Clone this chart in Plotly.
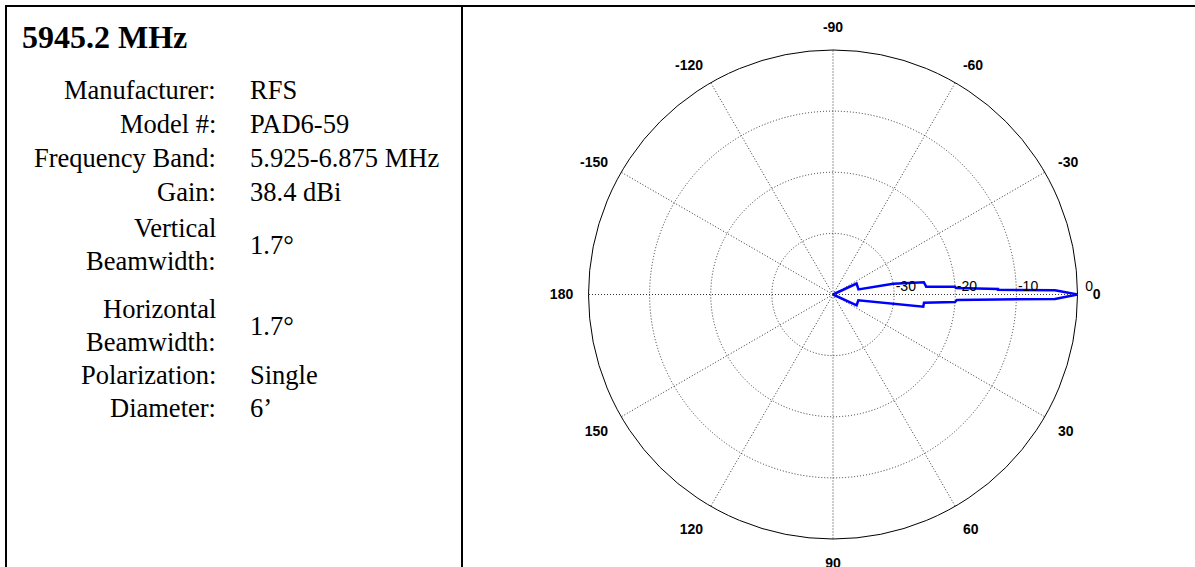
import plotly.graph_objects as go

# ---------------- data ----------------
title_text = "5945.2 MHz"
spec_labels = ["Manufacturer:", "Model #:", "Frequency Band:", "Gain:",
               "Vertical<br>Beamwidth:", "Horizontal<br>Beamwidth:",
               "Polarization:", "Diameter:"]
spec_values = ["RFS", "PAD6-59", "5.925-6.875 MHz", "38.4 dBi",
               "1.7°", "1.7°", "Single", "6’"]

# antenna pattern envelope: angle (deg) vs relative gain (dB)
pattern_angle = [-30, -24.8, -11.3, -10.2, -7.7, -4.8, -3.66, -3.0, -1.91, -1.67,
                 -1.08, 0, 1.16, 1.74, 2.54, 3.52, 5.15, 7.72, 12.9, 24.5, 30]
pattern_gain = [-40, -35.75, -35.75, -30, -25, -24.7, -20, -19.85, -13, -13,
                -3.67, 0, -3.67, -13, -19.7, -20, -25.05, -25.1, -35.75, -35.75, -40]

angle_ticks = [0, 30, 60, 90, 120, 150, 180, 210, 240, 270, 300, 330]
angle_ticktext = ["0", "30", "60", "90", "120", "150", "180",
                  "-150", "-120", "-90", "-60", "-30"]
radial_ticks = [-30, -20, -10, 0]
radial_ticktext = ["-30", "-20", "-10", "0"]

# ---------------- layout helpers ----------------
W, H = 1195, 567
def px(x):
    return x / W
def py(y):
    return 1 - y / H

fig = go.Figure()
fig.add_trace(go.Scatterpolar(
    r=pattern_gain, theta=pattern_angle, mode="lines",
    line=dict(color="#0000ff", width=2.5), showlegend=False, hoverinfo="skip"))

pad = "\u00a0" * 6
grid_dash = "1px,2px"
fig.update_layout(
    width=W, height=H, autosize=False,
    margin=dict(l=0, r=0, t=0, b=0),
    paper_bgcolor="white", plot_bgcolor="white",
    polar=dict(
        domain=dict(x=[px(588.5), px(1077.5)], y=[py(539), py(50)]),
        bgcolor="white",
        angularaxis=dict(
            direction="clockwise", rotation=0,
            tickmode="array", tickvals=angle_ticks, ticktext=angle_ticktext,
            tickfont=dict(family="Liberation Sans", size=14, color="black", weight="bold"),
            showline=True, linecolor="black", linewidth=1,
            showgrid=True, gridcolor="#333", griddash=grid_dash, gridwidth=1,
            ticks="outside", ticklen=12, tickcolor="rgba(0,0,0,0)",
        ),
        radialaxis=dict(
            range=[-40, 0], angle=0, side="counterclockwise",
            tickmode="array", tickvals=radial_ticks,
            ticktext=[pad + t for t in radial_ticktext],
            tickfont=dict(family="Liberation Sans", size=14, color="black"),
            showline=False, ticks="",
            showgrid=True, gridcolor="#333", griddash=grid_dash, gridwidth=1,
        ),
    ),
)

# table frame
line_style = dict(color="black", width=2)
fig.add_shape(type="line", xref="paper", yref="paper", x0=px(5), x1=px(1195),
              y0=py(6), y1=py(6), line=line_style)
fig.add_shape(type="line", xref="paper", yref="paper", x0=px(6), x1=px(6),
              y0=py(5), y1=py(567), line=line_style)
fig.add_shape(type="line", xref="paper", yref="paper", x0=px(462), x1=px(462),
              y0=py(5), y1=py(567), line=line_style)

serif = "Liberation Serif"
fig.add_annotation(text=title_text, xref="paper", yref="paper", x=px(20), y=py(37),
                   xanchor="left", yanchor="middle", showarrow=False,
                   font=dict(family=serif, size=32, color="black", weight="bold"))

label_x, value_x = 218, 248
row_y = [90, 124, 158, 192, (228, 261, 245), (309, 342, 326), 375, 408]
body_font = dict(family=serif, size=26.5, color="black")
for lab, val, yy in zip(spec_labels, spec_values, row_y):
    if isinstance(yy, tuple):
        parts = lab.split("<br>")
        for p, y_line in zip(parts, yy[:2]):
            fig.add_annotation(text=p, xref="paper", yref="paper", x=px(label_x), y=py(y_line),
                               xanchor="right", yanchor="middle", showarrow=False, font=body_font)
        fig.add_annotation(text=val, xref="paper", yref="paper", x=px(value_x), y=py(yy[2]),
                           xanchor="left", yanchor="middle", showarrow=False, font=body_font)
    else:
        fig.add_annotation(text=lab, xref="paper", yref="paper", x=px(label_x), y=py(yy),
                           xanchor="right", yanchor="middle", showarrow=False, font=body_font)
        fig.add_annotation(text=val, xref="paper", yref="paper", x=px(value_x), y=py(yy),
                           xanchor="left", yanchor="middle", showarrow=False, font=body_font)

fig.write_html("out.html", config={"displayModeBar": False},
               post_script="document.body.style.margin='0';document.body.style.padding='0';")
